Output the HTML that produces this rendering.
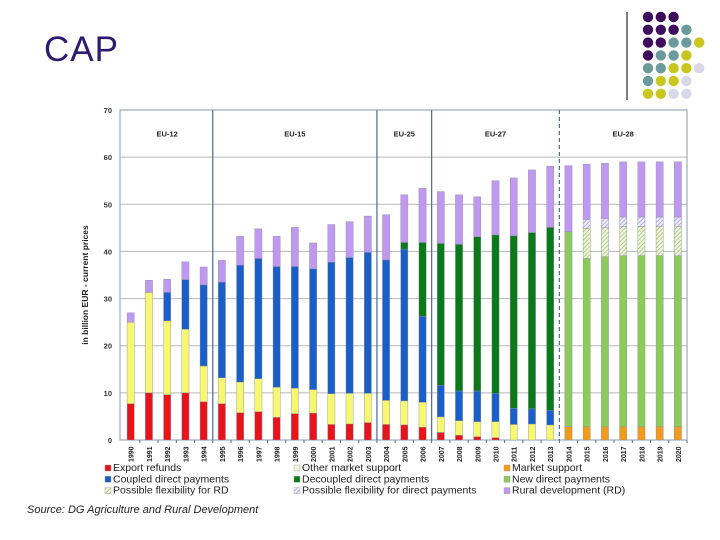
<!DOCTYPE html>
<html><head><meta charset="utf-8"><style>
body{margin:0;width:720px;height:540px;background:#fff;overflow:hidden;font-family:"Liberation Sans",sans-serif;position:relative}
#title{position:absolute;left:44px;top:30px;font-size:35px;color:#2e1a6e;letter-spacing:1px}
#src{position:absolute;left:27px;top:504px;font-size:11px;font-style:italic;color:#222}
</style></head><body>
<div id="title">CAP</div>
<svg id="logo" width="720" height="110" style="position:absolute;left:0;top:0"></svg>
<svg id="chart" width="720" height="540" style="position:absolute;left:0;top:0"></svg>
<div id="src">Source: DG Agriculture and Rural Development</div>
<script>
const years=[1990,1991,1992,1993,1994,1995,1996,1997,1998,1999,2000,2001,2002,2003,2004,2005,2006,2007,2008,2009,2010,2011,2012,2013,2014,2015,2016,2017,2018,2019,2020];
const exportRefunds=[7.7,10,9.6,10,8.1,7.7,5.8,6.0,4.8,5.6,5.7,3.3,3.4,3.7,3.3,3.2,2.7,1.6,1.0,0.7,0.5,0,0,0,0,0,0,0,0,0,0];
const otherMarket=[17.3,21.3,15.7,13.5,7.6,5.5,6.5,7.0,6.4,5.4,5.0,6.5,6.5,6.2,5.1,5.1,5.3,3.3,3.1,3.2,3.4,3.3,3.4,3.2,0,0,0,0,0,0,0];
const marketSupport=[0,0,0,0,0,0,0,0,0,0,0,0,0,0,0,0,0,0,0,0,0,0,0,0,2.8,2.8,2.8,2.8,2.8,2.8,2.8];
const coupled=[0,0,6.0,10.5,17.2,20.3,24.8,25.5,25.6,25.8,25.6,27.9,28.8,29.9,29.8,32.2,18.2,6.7,6.3,6.5,6.0,3.4,3.2,3.1,0,0,0,0,0,0,0];
const decoupled=[0,0,0,0,0,0,0,0,0,0,0,0,0,0,0,1.4,15.7,30.1,31.1,32.7,33.6,36.6,37.4,38.8,0,0,0,0,0,0,0];
const newDirect=[0,0,0,0,0,0,0,0,0,0,0,0,0,0,0,0,0,0,0,0,0,0,0,0,41.4,35.7,36.1,36.3,36.3,36.3,36.3];
const flexRD=[0,0,0,0,0,0,0,0,0,0,0,0,0,0,0,0,0,0,0,0,0,0,0,0,0,6.4,6.2,6.2,6.2,6.2,6.2];
const flexDP=[0,0,0,0,0,0,0,0,0,0,0,0,0,0,0,0,0,0,0,0,0,0,0,0,0,1.9,1.9,2.0,2.0,2.0,2.0];
const rural=[2.0,2.6,2.8,3.8,3.8,4.6,6.1,6.3,6.4,8.3,5.5,8.0,7.6,7.7,9.6,10.1,11.5,11.0,10.5,8.5,11.5,12.3,13.3,13.0,14.0,11.7,11.7,11.7,11.7,11.7,11.7];
const yTicks=[0,10,20,30,40,50,60,70];
const groups=["EU-12","EU-15","EU-25","EU-27","EU-28"];
const groupStart=[1990,1995,2004,2007,2014];
const groupEnd=[1994,2003,2006,2013,2020];

const NS="http://www.w3.org/2000/svg";
function mk(parent,tag,attrs){const e=document.createElementNS(NS,tag);for(const k in attrs)e.setAttribute(k,attrs[k]);parent.appendChild(e);return e;}
// logo
const logo=document.getElementById('logo');
mk(logo,'line',{x1:627,y1:12,x2:627,y2:100,stroke:'#000','stroke-width':1});
const C={P:'#3d0c5e',T:'#6a9a9a',Y:'#c9c61e',L:'#d8d8e8'};
const rows=["PPP","PPPT","PPTTY","PTTY","TTYYL","TYYL","YYLL"];
rows.forEach((r,i)=>{[...r].forEach((c,j)=>{const d=mk(logo,'circle',{cx:648+j*12.8,cy:17+i*12.8,r:5.2,fill:C[c]});

});});

const svg=document.getElementById('chart');
const defs=mk(svg,'defs',{});
const p1=mk(defs,'pattern',{id:'hg',width:3,height:3,patternUnits:'userSpaceOnUse',patternTransform:'rotate(45)'});
mk(p1,'rect',{width:3,height:3,fill:'#eef5dc'});mk(p1,'line',{x1:0,y1:0,x2:0,y2:3,stroke:'#8fbb5a','stroke-width':1.2});
const p2=mk(defs,'pattern',{id:'hb',width:3,height:3,patternUnits:'userSpaceOnUse',patternTransform:'rotate(45)'});
mk(p2,'rect',{width:3,height:3,fill:'#eceaf8'});mk(p2,'line',{x1:0,y1:0,x2:0,y2:3,stroke:'#9a8ed8','stroke-width':1.2});

const L=120,R=687,T=110,B=440;
const y=v=>B-(v/70)*(B-T);
const x=yr=>130.7+(yr-1990)*18.24;
const yb=v=>y(v);
// gridlines
yTicks.forEach(t=>{if(t>0&&t<70){const g=mk(svg,'line',{x1:L,x2:R,y1:y(t),y2:y(t),stroke:'#b8b8b8','stroke-width':1});

}
const tl=mk(svg,'text',{x:L-8,y:y(t)+3,'text-anchor':'end','font-size':7.5,'font-weight':'bold',fill:'#333'});tl.textContent=t;

});
mk(svg,'rect',{x:L,y:T,width:R-L,height:B-T,fill:'none',stroke:'#8a9ab0','stroke-width':1});
const yt=mk(svg,'text',{x:0,y:0,transform:`translate(88,${(T+B)/2+10}) rotate(-90)`,'text-anchor':'middle','font-size':8.5,'font-weight':'bold',fill:'#222'});
yt.textContent='in billion EUR - current prices';


// groups
groups.forEach((g,i)=>{const cx=(x(groupStart[i])+x(groupEnd[i]))/2;
const t=mk(svg,'text',{x:cx,y:y(65)+3,'text-anchor':'middle','font-size':7.5,'font-weight':'bold',fill:'#222'});t.textContent=g;


if(i>0){const bx=x(groupStart[i])-9.12;const ln=mk(svg,'line',{x1:bx,x2:bx,y1:T,y2:B,stroke:'#4a6a90','stroke-width':1.2});
if(i==4)ln.setAttribute('stroke-dasharray','4,3');

}});
// bars
const series=[[exportRefunds,'#e8141c','export-refunds'],[otherMarket,'#f8f870','other-market-support'],[marketSupport,'#f29a1a','market-support'],[coupled,'#1a5fc8','coupled-direct-payments'],[decoupled,'#0a7a18','decoupled-direct-payments'],[newDirect,'#8ccb5a','new-direct-payments'],[flexRD,'url(#hg)','flexibility-rd'],[flexDP,'url(#hb)','flexibility-direct-payments'],[rural,'#bf99f0','rural-development']];
years.forEach((yr,i)=>{let base=0;series.forEach(([arr,col,nm])=>{const v=arr[i];if(v>0){const r=mk(svg,'rect',{x:x(yr)-3.6,y:y(base+v),width:7.2,height:y(base)-y(base+v),fill:col,stroke:'#8a8aa0','stroke-width':0.4});

base+=v;}});
const tk=mk(svg,'line',{x1:x(yr)+9.12,x2:x(yr)+9.12,y1:B,y2:B+3,stroke:'#666'});
const tl=mk(svg,'text',{x:0,y:0,transform:`translate(${x(yr)+3},${B+22}) rotate(-90)`,'font-size':7,'font-weight':'bold',fill:'#222'});tl.textContent=yr;

});
// legend
const leg=[['Export refunds','#e8141c'],['Other market support','#eef5dc'],['Market support','#f29a1a'],['Coupled direct payments','#1a5fc8'],['Decoupled direct payments','#0a7a18'],['New direct payments','#8ccb5a'],['Possible flexibility for RD','url(#hg)'],['Possible flexibility for direct payments','url(#hb)'],['Rural development (RD)','#bf99f0']];
const lx=[105,294,504];
leg.forEach(([t,c],i)=>{const cx=lx[i%3],cy=471+Math.floor(i/3)*11.3;
mk(svg,'rect',{x:cx,y:cy-6,width:6,height:6,fill:c,stroke:'#999','stroke-width':0.4});
const tx=mk(svg,'text',{x:cx+8,y:cy,'font-size':10.5,fill:'#222'});tx.textContent=t;

});
</script>
</body></html>
